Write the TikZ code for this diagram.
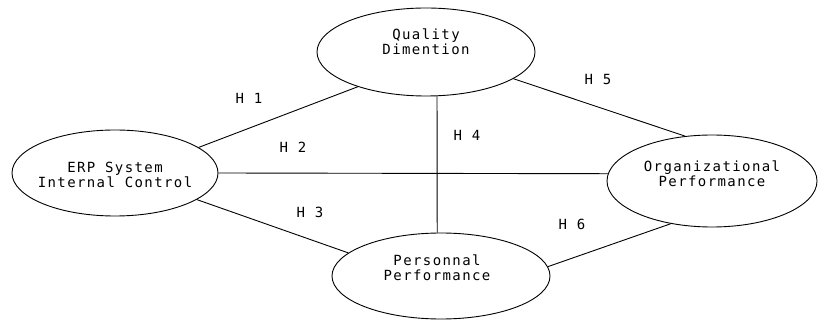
\documentclass[tikz,border=0pt]{standalone}
\usepackage{fontspec}
\newfontfamily\diagfont[LetterSpace=10]{DejaVu Sans Mono}
\usetikzlibrary{shapes.geometric}
\tikzset{
  construct/.style = {ellipse, draw, line width=0.9pt, inner sep=0pt},
  ctext/.style     = {align=center, font=\diagfont\fontsize{14}{15}\selectfont},
  hyp/.style       = {font=\diagfont\fontsize{14}{15}\selectfont},
  link/.style      = {line width=0.9pt},
}
\begin{document}
\begin{tikzpicture}[x=1pt, y=-1pt]
  \useasboundingbox (0,0) rectangle (818,320);

  % constructs
  \node[construct, minimum width=206pt, minimum height=86pt,
        label={[ctext, yshift=-2pt]center:ERP System\\Internal Control}] (erp) at (115,173) {};
  \node[construct, minimum width=218pt, minimum height=88pt,
        label={[ctext, yshift=10pt]center:Quality\\Dimention}] (quality) at (426,52) {};
  \node[construct, minimum width=210pt, minimum height=92pt,
        label={[ctext, yshift=7pt]center:Organizational\\Performance}] (org) at (712,181) {};
  \node[construct, minimum width=218pt, minimum height=86pt,
        label={[ctext, yshift=8pt, xshift=-4pt]center:Personnal\\Performance}] (pers) at (441,276) {};

  % hypotheses
  \draw[link] (erp.17) -- (quality.207);
  \draw[link] (erp.east) -- (org.176);
  \draw[link] (erp.342) -- (pers.166);
  \draw[link] (quality.284) -- (pers.95);
  \draw[link] (quality.343) -- (org.121);
  \draw[link] (pers.5) -- (org.226);

  \node[hyp] (h1) at (249,98) {H 1};
  \node[hyp] (h2) at (293,147) {H 2};
  \node[hyp] (h3) at (310,212) {H 3};
  \node[hyp] (h4) at (467,135) {H 4};
  \node[hyp] (h5) at (598,79) {H 5};
  \node[hyp] (h6) at (572,224) {H 6};
\end{tikzpicture}
\end{document}
